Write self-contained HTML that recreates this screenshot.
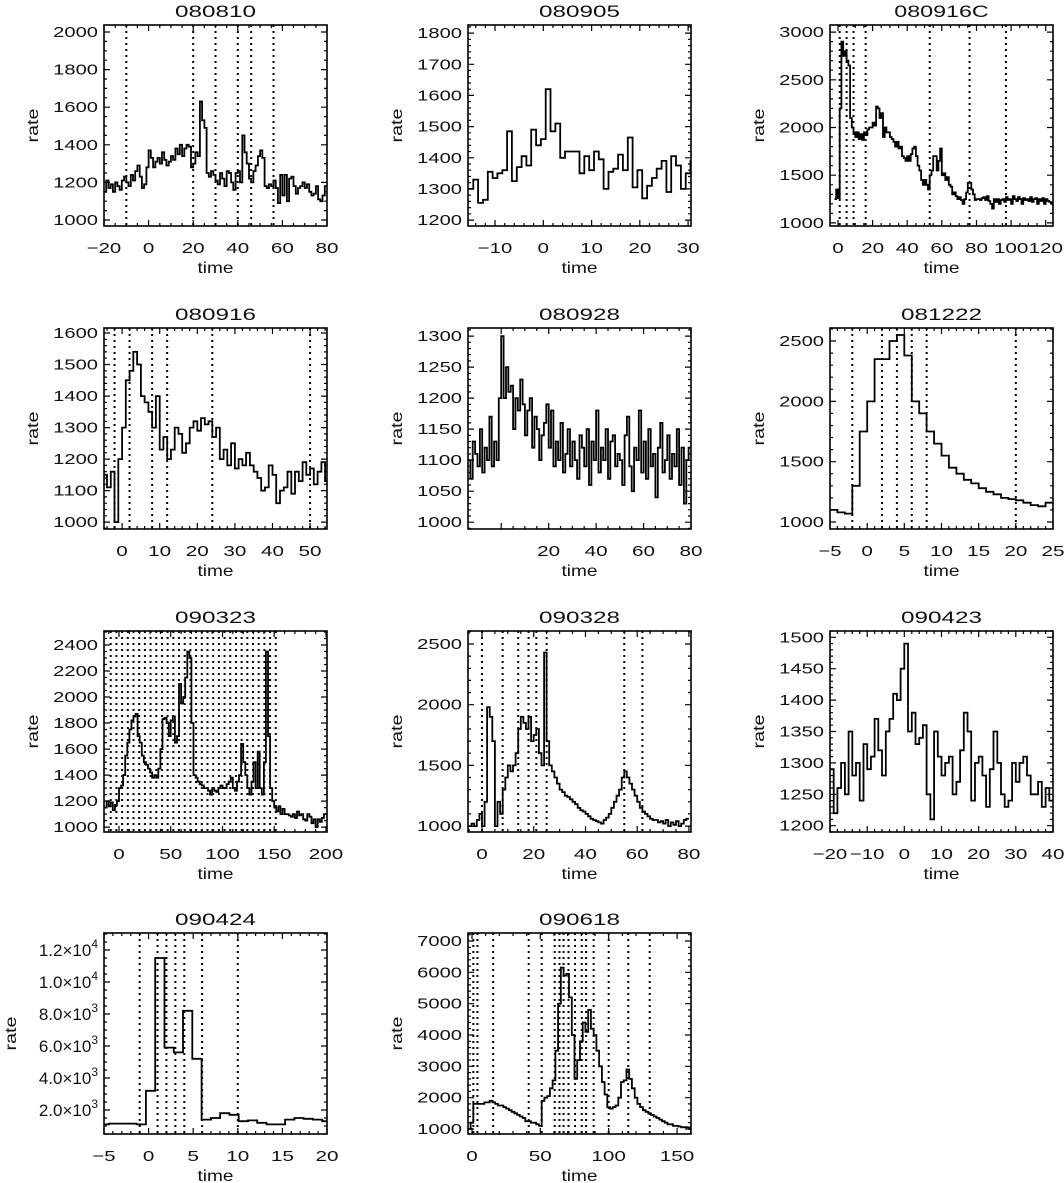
<!DOCTYPE html>
<html><head><meta charset="utf-8"><title>Light curves</title>
<style>
body{margin:0;background:#fff;}
svg{display:block;font-family:"Liberation Sans",sans-serif;}
</style></head>
<body>
<svg id="fig" width="1064" height="1183" viewBox="0 0 1064 1183" xmlns="http://www.w3.org/2000/svg">
<rect width="1064" height="1183" fill="#fff"/>
</svg>
<script>
// ---- data ----
const v080810=[1150,1210,1170,1190,1150,1200,1180,1160,1210,1230,1200,1180,1240,1210,1260,1290,1230,1170,1190,1280,1370,1330,1280,1310,1330,1300,1360,1320,1290,1310,1340,1320,1380,1350,1400,1340,1380,1400,1390,1280,1300,1360,1340,1630,1530,1490,1250,1230,1260,1240,1210,1190,1250,1220,1180,1260,1250,1200,1160,1250,1260,1200,1450,1360,1300,1220,1200,1260,1290,1340,1370,1330,1180,1170,1190,1180,1210,1170,1090,1240,1130,1240,1100,1220,1230,1180,1140,1170,1180,1200,1170,1190,1150,1130,1140,1180,1110,1100,1130,1180];
const vl080810=[-10,20,30,40,46,56];
const xt080810=[-20,0,20,40,60,80];
const yt080810=[1000,1200,1400,1600,1800,2000];

const v080905=[1300,1330,1255,1265,1355,1335,1350,1360,1485,1325,1370,1405,1375,1490,1440,1460,1620,1485,1510,1400,1420,1420,1420,1350,1405,1360,1420,1395,1300,1355,1365,1410,1360,1465,1305,1360,1270,1310,1335,1365,1390,1290,1405,1375,1300,1350,1390];
const vl080905=[];
const xt080905=[-10,0,10,20,30];
const yt080905=[1200,1300,1400,1500,1600,1700,1800];

const v080916C=[1250,1350,1260,2200,2900,2750,2800,2700,2650,2100,2000,1950,1900,1950,1880,1930,1870,1950,1920,1980,2000,2000,2050,2020,2220,2200,2100,2150,1900,2000,1950,1950,1900,1880,1850,1800,1850,1780,1800,1700,1680,1650,1700,1650,1720,1780,1800,1700,1600,1550,1450,1400,1450,1400,1350,1500,1550,1700,1700,1550,1650,1780,1500,1520,1450,1480,1400,1380,1300,1320,1280,1250,1270,1240,1200,1250,1320,1420,1420,1350,1300,1240,1250,1250,1240,1260,1270,1240,1280,1230,1200,1150,1250,1220,1250,1200,1240,1250,1220,1270,1240,1250,1200,1280,1250,1230,1270,1250,1200,1260,1240,1250,1230,1270,1220,1250,1260,1200,1250,1230,1260,1200,1250,1230,1220,1210,1190,1230];
const vl080916C=[1,5,9,16,53,76,97];
const xt080916C=[0,20,40,60,80,100,120];
const yt080916C=[1000,1500,2000,2500,3000];

const v080916=[1150,1110,1160,1000,1200,1300,1450,1480,1540,1500,1400,1380,1350,1300,1400,1230,1270,1200,1230,1300,1280,1220,1250,1300,1320,1290,1330,1310,1320,1270,1300,1200,1230,1180,1250,1170,1200,1180,1220,1180,1160,1140,1100,1110,1180,1150,1060,1100,1110,1160,1090,1160,1130,1190,1150,1170,1120,1160,1190,1130,1120];
const vl080916=[-2,2,8,12,24,50];
const xt080916=[0,10,20,30,40,50];
const yt080916=[1000,1100,1200,1300,1400,1500,1600];

const v080928=[1100,1070,1130,1110,1090,1150,1080,1120,1100,1170,1090,1130,1100,1200,1300,1200,1250,1210,1220,1150,1200,1180,1230,1190,1140,1180,1200,1120,1170,1150,1100,1140,1160,1190,1120,1180,1090,1130,1100,1160,1080,1110,1150,1090,1130,1100,1070,1140,1120,1090,1150,1060,1130,1100,1180,1080,1120,1100,1150,1070,1130,1140,1090,1110,1100,1060,1140,1170,1090,1050,1120,1100,1180,1080,1130,1070,1150,1090,1110,1040,1120,1160,1080,1100,1140,1070,1110,1090,1150,1060,1120,1030,1100,1120];
const vl080928=[];
const xt080928=[20,40,60,80];
const yt080928=[1000,1050,1100,1150,1200,1250,1300];

const v081222=[1100,1080,1070,1300,1750,2000,2350,2350,2500,2550,2380,2000,1900,1750,1650,1550,1450,1400,1350,1320,1280,1250,1230,1200,1190,1180,1160,1140,1130,1160];
const vl081222=[-2,2,4,6,8,20];
const xt081222=[-5,0,5,10,15,20,25];
const yt081222=[1000,1500,2000,2500];

const v090323=[1150,1200,1160,1190,1130,1170,1200,1300,1320,1400,1550,1650,1750,1820,1850,1870,1700,1650,1550,1500,1480,1450,1420,1380,1400,1380,1450,1600,1830,1840,1800,1700,1820,1850,1650,1700,2100,1950,2000,2150,2350,2300,1800,1400,1380,1350,1330,1320,1300,1300,1280,1250,1300,1280,1270,1300,1320,1300,1300,1330,1350,1380,1300,1280,1350,1400,1640,1500,1400,1300,1250,1350,1500,1300,1580,1300,1250,1500,2350,1700,1300,1200,1150,1120,1160,1100,1140,1100,1100,1090,1080,1100,1070,1120,1090,1100,1060,1050,1100,1080,1030,1060,1000,1060,1040,1070,1100];
const vl090323=[-8,-2.5,3,8.5,14,19.5,25,30.5,36,41.5,47,52.5,58,63.5,69,74.5,80,85.5,91,96.5,102,107.5,113,118.5,124,129.5,135,140.5,146,151.5];
const xt090323=[0,50,100,150,200];
const yt090323=[1000,1200,1400,1600,1800,2000,2200,2400];

const v090328=[1000,1020,1000,1050,1100,1000,1200,1980,1900,1700,1000,1200,1100,1300,1400,1500,1450,1500,1600,1800,1900,1850,1800,1900,1700,1750,1800,1600,1500,2430,1700,1500,1450,1400,1350,1300,1280,1250,1240,1220,1200,1180,1150,1130,1120,1100,1080,1060,1050,1040,1030,1020,1050,1070,1100,1150,1200,1250,1300,1400,1450,1400,1350,1300,1250,1200,1150,1120,1100,1080,1060,1050,1050,1030,1040,1020,1050,1000,1030,1010,1040,1000,1020,1050,1060];
const vl090328=[0,8,14,18,21,25,55,62];
const xt090328=[0,20,40,60,80];
const yt090328=[1000,1500,2000,2500];

const v090423=[1290,1220,1260,1300,1250,1350,1280,1300,1240,1330,1290,1310,1370,1320,1280,1350,1370,1410,1400,1450,1490,1350,1380,1330,1340,1360,1250,1210,1350,1310,1280,1300,1310,1250,1270,1320,1380,1350,1240,1300,1310,1280,1230,1290,1350,1300,1250,1230,1240,1300,1270,1300,1310,1280,1250,1250,1270,1230,1260,1240];
const vl090423=[];
const xt090423=[-20,-10,0,10,20,30,40];
const yt090423=[1200,1250,1300,1350,1400,1450,1500];

const v090424=[1100,1150,1150,1150,1100,3200,11500,5900,5600,8200,5200,1400,1500,1800,1700,1300,1350,1200,1100,1100,1400,1500,1450,1400,1300,1250];
const vl090424=[-1,1,2,3,4,6,10];
const xt090424=[-5,0,5,10,15,20];
const yt090424=[2000,4000,6000,8000,10000,12000];
const ytl090424=["2.0","4.0","6.0","8.0","1.0","1.2"];
const yte090424=["3","3","3","3","4","4"];

const v090618=[1000,1200,1800,1800,1800,1800,1850,1850,1900,1850,1800,1750,1750,1700,1650,1600,1550,1500,1450,1400,1350,1250,1250,1200,1200,1150,1100,1900,2000,2050,2300,2550,3500,5000,6150,5900,5950,5200,4000,2600,3200,3800,4400,4100,4800,4200,4000,3500,3000,2500,2100,1700,1650,1700,1750,2000,2500,2550,2900,2600,2300,2000,1800,1700,1600,1550,1500,1450,1400,1350,1300,1250,1200,1150,1150,1100,1100,1080,1050,1060,1050,1000];
const vl090618=[1,4,15.5,41.5,51,60.5,64,67,70.6,75.4,80.3,83.5,89,100,114.3,130];
const xt090618=[0,50,100,150];
const yt090618=[1000,2000,3000,4000,5000,6000,7000];

// ---- layout ----
const colX=[104,468,830], rowY=[25,328,631,933], PW=223, PH=201;
const panels=[
 {id:'080810',c:0,r:0,x0:-20,x1:80,y0:968,y1:2037,start:-20,w:1,v:v080810,vl:vl080810,xt:xt080810,yt:yt080810,xm:4,ym:4},
 {id:'080905',c:1,r:0,x0:-15.6,x1:30.6,y0:1181,y1:1826,start:-15.5,w:1,v:v080905,vl:vl080905,xt:xt080905,yt:yt080905,xm:5,ym:5},
 {id:'080916C',c:2,r:0,x0:-4.6,x1:124.2,y0:968,y1:3074,start:-2,w:1,v:v080916C,vl:vl080916C,xt:xt080916C,yt:yt080916C,xm:4,ym:5},
 {id:'080916',c:0,r:1,x0:-4.8,x1:54.5,y0:978,y1:1616,start:-5,w:1,v:v080916,vl:vl080916,xt:xt080916,yt:yt080916,xm:5,ym:5},
 {id:'080928',c:1,r:1,x0:-14,x1:80,y0:989,y1:1313,start:-14,w:1,v:v080928,vl:vl080928,xt:xt080928,yt:yt080928,xm:4,ym:5},
 {id:'081222',c:2,r:1,x0:-5,x1:25,y0:942,y1:2608,start:-5,w:1,v:v081222,vl:vl081222,xt:xt081222,yt:yt081222,xm:5,ym:5},
 {id:'090323',c:0,r:2,x0:-14.5,x1:201,y0:962,y1:2508,start:-14,w:2,v:v090323,vl:vl090323,xt:xt090323,yt:yt090323,xm:5,ym:4},
 {id:'090328',c:1,r:2,x0:-5.4,x1:80.8,y0:951,y1:2607,start:-5,w:1,v:v090328,vl:vl090328,xt:xt090328,yt:yt090328,xm:4,ym:5},
 {id:'090423',c:2,r:2,x0:-20,x1:40,y0:1190,y1:1510,start:-20,w:1,v:v090423,vl:vl090423,xt:xt090423,yt:yt090423,xm:5,ym:5},
 {id:'090424',c:0,r:3,x0:-5,x1:20,y0:500,y1:13060,start:-5.5,w:1.04,v:v090424,vl:vl090424,xt:xt090424,yt:yt090424,xm:5,ym:4,sci:true},
 {id:'090618',c:1,r:3,x0:-2.9,x1:160.2,y0:840,y1:7255,start:-3,w:2,v:v090618,vl:vl090618,xt:xt090618,yt:yt090618,xm:5,ym:5}
];
const NS='http://www.w3.org/2000/svg';
const svg=document.getElementById('fig');
function mk(tag,attrs,parent){const e=document.createElementNS(NS,tag);for(const k in attrs)e.setAttribute(k,attrs[k]);(parent||svg).appendChild(e);return e;}
function fmt(n){return (n<0?'\u2212':'')+Math.abs(n);}

panels.forEach((p,i)=>{
  const L=colX[p.c],T=rowY[p.r],R=L+PW,B=T+PH;
  const sx=t=>L+(t-p.x0)/(p.x1-p.x0)*PW;
  const sy=v=>B-(v-p.y0)/(p.y1-p.y0)*PH;
  const g=mk('g',{});
  
  
  const cp=mk('clipPath',{id:'cp'+i},g);
  mk('rect',{x:L,y:T,width:PW,height:PH},cp);
  const tt=mk('text',{x:(L+R)/2,y:T-8,'text-anchor':'middle','font-size':17,textLength:p.id.length*13.5,lengthAdjust:'spacingAndGlyphs',fill:'#111'},g);
  tt.textContent=p.id;
  
  
  p.vl.forEach(t=>{
    const ln=mk('line',{x1:sx(t),x2:sx(t),y1:T,y2:B,stroke:'#000','stroke-width':2,'stroke-dasharray':'2 4'},g);
    
    
  });
  let d='';
  p.v.forEach((v,k)=>{const a=sx(p.start+k*p.w),b=sx(p.start+(k+1)*p.w),y=sy(v);d+=(k===0?'M'+a.toFixed(1)+','+y.toFixed(1):'V'+y.toFixed(1))+'H'+b.toFixed(1);});
  const path=mk('path',{d:d,fill:'none',stroke:'#000','stroke-width':1.8,'clip-path':'url(#cp'+i+')'},g);
  
  
  const box=mk('rect',{x:L,y:T,width:PW,height:PH,fill:'none',stroke:'#000','stroke-width':1.6},g);
  
  
  let td='';
  const xs=p.xt[1]-p.xt[0], ys=p.yt[1]-p.yt[0];
  for(let t=p.xt[0]-xs;t<=p.x1+1e-9;t+=xs/p.xm){
    if(t<p.x0-1e-9)continue;
    const maj=Math.abs(((t-p.xt[0])/xs)-Math.round((t-p.xt[0])/xs))<1e-6;
    const len=maj?6:3,x=sx(t).toFixed(1);
    td+='M'+x+','+B+'v-'+len+'M'+x+','+T+'v'+len;
  }
  for(let v=p.yt[0]-ys;v<=p.y1+1e-9;v+=ys/p.ym){
    if(v<p.y0-1e-9)continue;
    const maj=Math.abs(((v-p.yt[0])/ys)-Math.round((v-p.yt[0])/ys))<1e-6;
    const len=maj?6:3,y=sy(v).toFixed(1);
    td+='M'+L+','+y+'h'+len+'M'+R+','+y+'h-'+len;
  }
  const tk=mk('path',{d:td,stroke:'#000','stroke-width':1.2,fill:'none'},g);
  
  
  p.xt.forEach(t=>{
    const s=fmt(t);
    const tx=mk('text',{x:sx(t),y:B+27,'text-anchor':'middle','font-size':15,textLength:s.length*11.5,lengthAdjust:'spacingAndGlyphs',fill:'#111'},g);
    tx.textContent=s;
    
    
  });
  p.yt.forEach((v,k)=>{
    let tx;
    if(p.sci){
      tx=mk('text',{x:L-6,y:sy(v)+6,'text-anchor':'end','font-size':17,fill:'#111'},g);
      tx.textContent=ytl090424[k]+'\u00d710';
      const sp=mk('tspan',{dy:-8,'font-size':12},tx);
      sp.textContent=yte090424[k];
    }else{
      const s=fmt(v);
      tx=mk('text',{x:L-6,y:sy(v)+5,'text-anchor':'end','font-size':15,textLength:s.length*11.2,lengthAdjust:'spacingAndGlyphs',fill:'#111'},g);
      tx.textContent=s;
    }
    
    
  });
  const xl=mk('text',{x:(L+R)/2,y:B+47,'text-anchor':'middle','font-size':16,textLength:36,lengthAdjust:'spacingAndGlyphs',fill:'#111'},g);
  xl.textContent='time';
  
  
  const rx=p.sci?L-88:L-66, ry=(T+B)/2;
  const yl=mk('text',{x:rx,y:ry,'text-anchor':'middle','font-size':16,textLength:34,lengthAdjust:'spacingAndGlyphs',fill:'#111',transform:'rotate(-90 '+rx+' '+ry+')'},g);
  yl.textContent='rate';
  
  
});
</script>
</body></html>
